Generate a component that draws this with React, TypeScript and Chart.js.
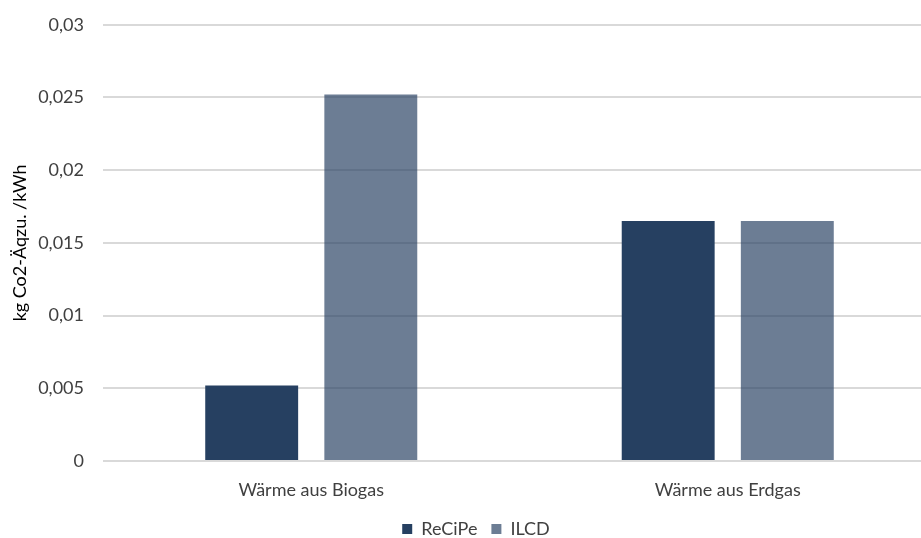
import React, { useEffect, useRef } from "react";
import { Chart, registerables } from "chart.js";

Chart.register(...registerables);

const categories = ["Wärme aus Biogas", "Wärme aus Erdgas"];
const recipeValues = [0.0052, 0.0165];
const ilcdValues = [0.0252, 0.0165];
const yTicks = [0, 0.005, 0.01, 0.015, 0.02, 0.025, 0.03];
const yTickLabels = ["0", "0,005", "0,01", "0,015", "0,02", "0,025", "0,03"];

const FONT = "Lato, 'Open Sans', sans-serif";
const TEXT = "#404040";

export default function App() {
  const canvasRef = useRef<HTMLCanvasElement | null>(null);

  useEffect(() => {
    const canvas = canvasRef.current;
    if (!canvas) return;
    const chart = new Chart(canvas, {
      type: "bar",
      data: {
        labels: categories,
        datasets: [
          {
            label: "ReCiPe",
            data: recipeValues,
            backgroundColor: "rgb(38,64,97)",
            borderWidth: 0,
          },
          {
            label: "ILCD",
            data: ilcdValues,
            backgroundColor: "rgba(38,64,97,0.68)",
            borderWidth: 0,
          },
        ],
      },
      options: {
        responsive: false,
        animation: false,
        devicePixelRatio: 1,
        layout: { padding: { left: 16, top: 4, right: 4, bottom: 0 } },
        datasets: {
          bar: { categoryPercentage: 0.572, barPercentage: 0.78 },
        },
        plugins: {
          legend: {
            position: "bottom",
            labels: {
              boxWidth: 10,
              boxHeight: 10,
              padding: 14,
              color: TEXT,
              font: { family: FONT, size: 18 },
            },
          },
          tooltip: { enabled: false },
        },
        scales: {
          x: {
            grid: { display: false, drawTicks: false },
            border: { display: false },
            afterFit: (scale: any) => {
              scale.height = 45;
            },
            ticks: {
              color: TEXT,
              padding: 18,
              font: { family: FONT, size: 18 },
            },
          },
          y: {
            min: 0,
            max: 0.03,
            afterBuildTicks: (scale: any) => {
              scale.ticks = yTicks.map((v) => ({ value: v }));
            },
            afterFit: (scale: any) => {
              scale.width = 87;
            },
            grid: {
              color: "#d9d9d9",
              lineWidth: 2,
              drawTicks: false,
            },
            border: { display: false },
            ticks: {
              color: TEXT,
              padding: 19,
              font: { family: FONT, size: 18 },
              callback: (value: any) => {
                const i = yTicks.findIndex((t) => Math.abs(t - Number(value)) < 1e-9);
                return i >= 0 ? yTickLabels[i] : "";
              },
            },
            title: {
              display: true,
              text: "kg Co2-Äqzu. /kWh",
              color: "#000000",
              padding: { top: -7, bottom: 4 },
              font: { family: FONT, size: 18 },
            },
          },
        },
      },
    });
    return () => chart.destroy();
  }, []);

  return (
    <div style={{ position: "fixed", left: 0, top: 0, right: 0, bottom: 0, overflow: "hidden", background: "#ffffff" }}>
      <canvas
        ref={canvasRef}
        width={940}
        height={553}
        style={{ display: "block", position: "absolute", left: 0, top: -5 }}
      />
    </div>
  );
}
